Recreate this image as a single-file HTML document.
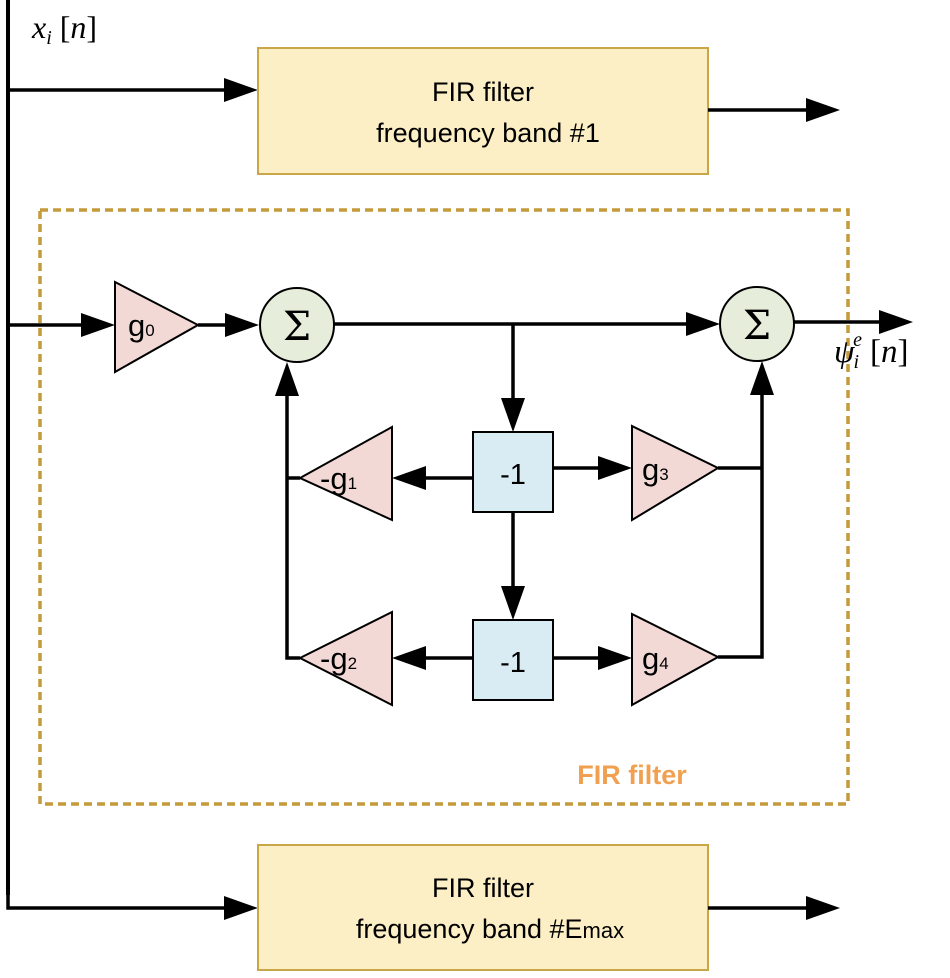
<!DOCTYPE html>
<html><head><meta charset="utf-8"><style>
html,body{margin:0;padding:0;background:#fff;}
svg{display:block;}
.s{font-family:"Liberation Sans",sans-serif;}
.m{font-family:"Liberation Serif",serif;font-style:italic;}
.sig{font-family:"DejaVu Serif","Liberation Serif",serif;}
</style></head><body>
<svg width="950" height="978" viewBox="0 0 950 978" xmlns="http://www.w3.org/2000/svg">
<line x1="8" y1="0" x2="8" y2="895" stroke="#000" stroke-width="4"/>
<text x="32" y="38" class="m" font-size="32">x<tspan font-size="20" dy="6">i</tspan><tspan dy="-6" style="font-style:normal"> [</tspan>n<tspan style="font-style:normal">]</tspan></text>

<rect x="40" y="210" width="808" height="594" fill="none" stroke="#c49a3a" stroke-width="3.5" stroke-dasharray="8,5"/>
<text x="632" y="784" class="s" font-size="27" font-weight="bold" fill="#f0a050" text-anchor="middle">FIR filter</text>

<line x1="8" y1="90" x2="230" y2="90" stroke="#000" stroke-width="3.5"/>
<polygon points="224,78 258,90 224,102" fill="#000"/>
<rect x="258" y="48" width="450" height="126" fill="#fdefc5" stroke="#c9a748" stroke-width="2"/>
<text x="483" y="101" class="s" font-size="27" text-anchor="middle">FIR filter</text>
<text x="488" y="142" class="s" font-size="27" text-anchor="middle">frequency band #1</text>
<line x1="708" y1="110" x2="810" y2="110" stroke="#000" stroke-width="3.5"/>
<polygon points="806,98 840,110 806,122" fill="#000"/>

<path d="M8,893 L8,908 L230,908" fill="none" stroke="#000" stroke-width="3.5"/>
<polygon points="224,896 258,908 224,920" fill="#000"/>
<rect x="258" y="845" width="450" height="125" fill="#fdefc5" stroke="#c9a748" stroke-width="2"/>
<text x="483" y="897" class="s" font-size="27" text-anchor="middle">FIR filter</text>
<text x="490" y="938" class="s" font-size="27" text-anchor="middle">frequency band #E<tspan font-size="22">max</tspan></text>
<line x1="708" y1="908" x2="810" y2="908" stroke="#000" stroke-width="3.5"/>
<polygon points="806,896 840,908 806,920" fill="#000"/>

<line x1="8" y1="325" x2="90" y2="325" stroke="#000" stroke-width="3.5"/>
<polygon points="81,313 115,325 81,337" fill="#000"/>
<polygon points="115,282 198,325 115,372" fill="#f2d9d6" stroke="#000" stroke-width="2"/>
<text x="128" y="336" class="s" font-size="31">g<tspan font-size="17">0</tspan></text>
<line x1="198" y1="325" x2="235" y2="325" stroke="#000" stroke-width="3.5"/>
<polygon points="225,313 259,325 225,337" fill="#000"/>
<circle cx="297" cy="325" r="37" fill="#e6eedb" stroke="#000" stroke-width="2"/>
<text x="297" y="340" class="sig" font-size="40" text-anchor="middle">Σ</text>
<line x1="334" y1="324" x2="690" y2="324" stroke="#000" stroke-width="3.5"/>
<polygon points="686,312 720,324 686,336" fill="#000"/>
<circle cx="757" cy="324" r="37" fill="#e6eedb" stroke="#000" stroke-width="2"/>
<text x="757" y="339" class="sig" font-size="40" text-anchor="middle">Σ</text>
<line x1="794" y1="322" x2="885" y2="322" stroke="#000" stroke-width="3.5"/>
<polygon points="879,310 913,322 879,334" fill="#000"/>
<text x="834" y="362" class="m" font-size="33">ψ<tspan font-size="20" dy="6" dx="-1">i</tspan><tspan font-size="20" dy="-22" dx="-6">e</tspan><tspan dy="16" dx="8" style="font-style:normal">[</tspan>n<tspan style="font-style:normal">]</tspan></text>

<line x1="513" y1="324" x2="513" y2="405" stroke="#000" stroke-width="3.5"/>
<polygon points="501,398 513,432 525,398" fill="#000"/>
<rect x="473" y="432" width="80" height="80" fill="#daecf3" stroke="#000" stroke-width="2"/>
<text x="513" y="484" class="s" font-size="29" text-anchor="middle">-1</text>
<line x1="513" y1="512" x2="513" y2="595" stroke="#000" stroke-width="3.5"/>
<polygon points="501,586 513,620 525,586" fill="#000"/>
<rect x="473" y="620" width="80" height="80" fill="#daecf3" stroke="#000" stroke-width="2"/>
<text x="513" y="672" class="s" font-size="29" text-anchor="middle">-1</text>

<line x1="473" y1="478" x2="415" y2="478" stroke="#000" stroke-width="3.5"/>
<polygon points="426,466 392,478 426,490" fill="#000"/>
<polygon points="392,427 300,478 392,520" fill="#f2d9d6" stroke="#000" stroke-width="2"/>
<text x="320" y="489" class="s" font-size="31">-g<tspan font-size="17">1</tspan></text>
<line x1="473" y1="658" x2="415" y2="658" stroke="#000" stroke-width="3.5"/>
<polygon points="426,646 392,658 426,670" fill="#000"/>
<polygon points="392,612 300,658 392,705" fill="#f2d9d6" stroke="#000" stroke-width="2"/>
<text x="320" y="669" class="s" font-size="31">-g<tspan font-size="17">2</tspan></text>
<path d="M300,478 L287,478 M300,658 L287,658 L287,385" fill="none" stroke="#000" stroke-width="3.5"/>
<polygon points="275,396 287,362 299,396" fill="#000"/>

<line x1="553" y1="468" x2="610" y2="468" stroke="#000" stroke-width="3.5"/>
<polygon points="598,456 632,468 598,480" fill="#000"/>
<polygon points="632,426 718,468 632,520" fill="#f2d9d6" stroke="#000" stroke-width="2"/>
<text x="642" y="480" class="s" font-size="31">g<tspan font-size="17">3</tspan></text>
<line x1="553" y1="658" x2="610" y2="658" stroke="#000" stroke-width="3.5"/>
<polygon points="598,646 632,658 598,670" fill="#000"/>
<polygon points="632,614 718,657 632,705" fill="#f2d9d6" stroke="#000" stroke-width="2"/>
<text x="642" y="669" class="s" font-size="31">g<tspan font-size="17">4</tspan></text>
<path d="M718,468 L762,468 M718,657 L762,657 L762,385" fill="none" stroke="#000" stroke-width="3.5"/>
<polygon points="750,395 762,361 774,395" fill="#000"/>
</svg>
</body></html>
